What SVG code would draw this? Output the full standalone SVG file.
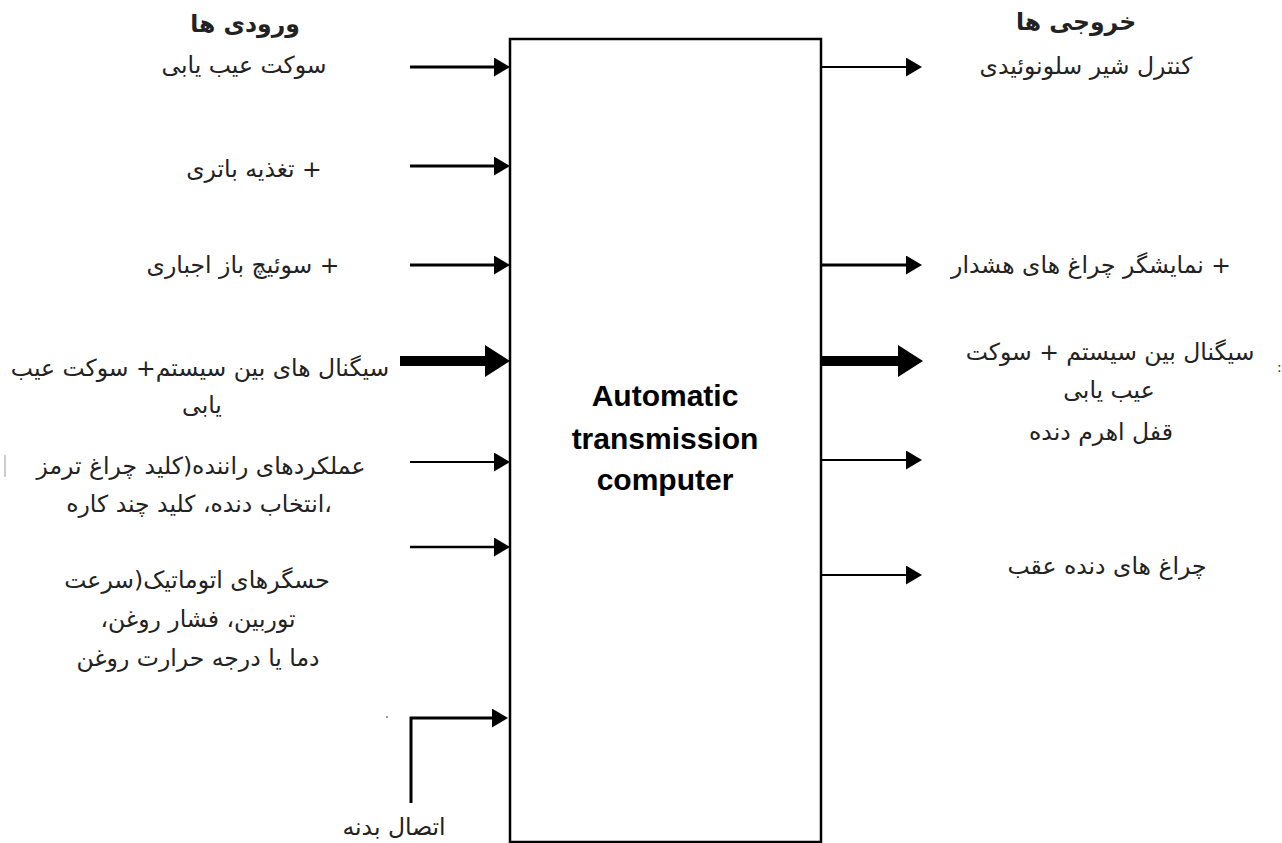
<svg xmlns="http://www.w3.org/2000/svg" width="1282" height="843" viewBox="0 0 1282 843">
<style>
.fa{font-family:"DejaVu Sans","Noto Sans",sans-serif;font-size:23.5px;fill:#222;text-anchor:middle;direction:rtl;unicode-bidi:embed}
.fb{font-weight:bold}
.en{font-family:"Liberation Sans",Arial,sans-serif;font-size:30px;font-weight:bold;fill:#000;text-anchor:middle}
.ln{stroke:#000;fill:none}
</style>
<defs>
<marker id="ah" markerUnits="userSpaceOnUse" markerWidth="17" markerHeight="19" refX="2" refY="9.5" orient="auto" viewBox="0 0 17 19"><path d="M0,0 L16,9.5 L0,19 z" fill="#000"/></marker>
<marker id="ahb" markerUnits="userSpaceOnUse" markerWidth="25" markerHeight="32" refX="2" refY="16" orient="auto" viewBox="0 0 25 32"><path d="M0,0 L25,16 L0,32 z" fill="#000"/></marker>
</defs>
<g id="computer">
<rect x="510" y="39" width="311" height="803" fill="#fff" stroke="#000" stroke-width="2.5"/>
<text class="en" x="665" y="406">Automatic</text>
<text class="en" x="665" y="449">transmission</text>
<text class="en" x="665" y="490">computer</text>
</g>
<g id="connectors">
<line class="ln" x1="410" y1="67" x2="496" y2="67" stroke-width="3" marker-end="url(#ah)"/>
<line class="ln" x1="410" y1="166" x2="496" y2="166" stroke-width="3" marker-end="url(#ah)"/>
<line class="ln" x1="410" y1="265" x2="496" y2="265" stroke-width="3" marker-end="url(#ah)"/>
<line class="ln" x1="400" y1="361" x2="487" y2="361" stroke-width="10" marker-end="url(#ahb)"/>
<line class="ln" x1="410" y1="462" x2="496" y2="462" stroke-width="2" marker-end="url(#ah)"/>
<line class="ln" x1="410" y1="547" x2="496" y2="547" stroke-width="2.5" marker-end="url(#ah)"/>
<polyline class="ln" points="411,803 411,718 494,718" stroke-width="3" marker-end="url(#ah)"/>
<line class="ln" x1="822" y1="67" x2="908" y2="67" stroke-width="2" marker-end="url(#ah)"/>
<line class="ln" x1="822" y1="265" x2="908" y2="265" stroke-width="3" marker-end="url(#ah)"/>
<line class="ln" x1="822" y1="361" x2="900" y2="361" stroke-width="10" marker-end="url(#ahb)"/>
<line class="ln" x1="822" y1="460" x2="908" y2="460" stroke-width="2" marker-end="url(#ah)"/>
<line class="ln" x1="822" y1="575" x2="908" y2="575" stroke-width="2" marker-end="url(#ah)"/>
</g>
<g id="inputs-title"><text class="fa fb" x="245" y="32">ورودی ها</text></g>
<g id="in1"><text class="fa" x="244" y="73">سوکت عیب یابی</text></g>
<g id="in2"><text class="fa" x="254" y="177">+ تغذیه باتری</text></g>
<g id="in3"><text class="fa" x="243" y="273">+ سوئیچ باز اجباری</text></g>
<g id="in4"><text class="fa" x="200" y="376">سیگنال های بین سیستم+ سوکت عیب</text><text class="fa" x="202" y="413">یابی</text></g>
<g id="in5"><text class="fa" x="201" y="474">عملکردهای راننده(کلید چراغ ترمز</text><text class="fa" x="199" y="512">،انتخاب دنده، کلید چند کاره</text></g>
<g id="in6"><text class="fa" x="197" y="588">حسگرهای اتوماتیک(سرعت</text><text class="fa" x="198" y="627">توربین، فشار روغن،</text><text class="fa" x="198" y="666">دما یا درجه حرارت روغن</text></g>
<g id="in7"><text class="fa" x="394" y="835">اتصال بدنه</text></g>
<g id="outputs-title"><text class="fa fb" x="1076" y="30">خروجی ها</text></g>
<g id="out1"><text class="fa" x="1086" y="74">کنترل شیر سلونوئیدی</text></g>
<g id="out2"><text class="fa" x="1091" y="273">+ نمایشگر چراغ های هشدار</text></g>
<g id="out3"><text class="fa" x="1110" y="360">سیگنال بین سیستم + سوکت</text><text class="fa" x="1109" y="398">عیب یابی</text></g>
<g id="out4"><text class="fa" x="1101" y="440">قفل اهرم دنده</text></g>
<g id="out5"><text class="fa" x="1107" y="574">چراغ های دنده عقب</text></g>
<g id="marks">
<line x1="5" y1="455" x2="5" y2="477" stroke="#999" stroke-width="1"/>
<text x="1277" y="372" style="font-family:'DejaVu Sans',sans-serif;font-size:14px;fill:#333">:</text>
<circle cx="387" cy="717" r="1" fill="#777"/>
</g>
</svg>
